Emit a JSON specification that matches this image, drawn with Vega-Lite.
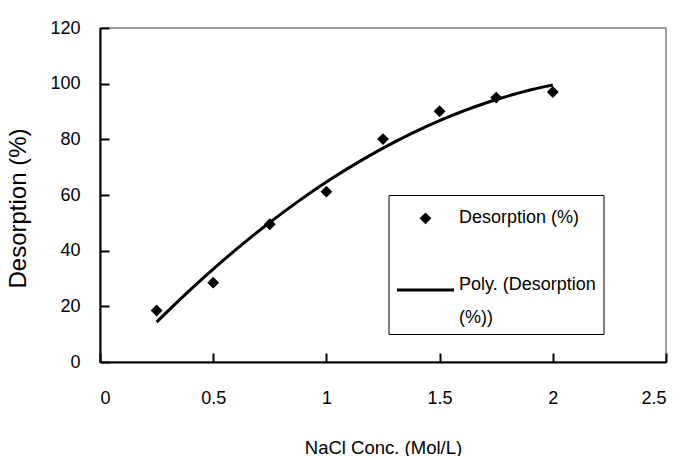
{
  "$schema": "https://vega.github.io/schema/vega-lite/v6.json",
  "width": 566,
  "height": 334,
  "autosize": {"type": "none"},
  "padding": {"left": 100, "top": 28, "right": 15, "bottom": 94},
  "background": "white",
  "config": {
    "view": {"stroke": "#808080", "strokeWidth": 1.5},
    "style": {"guide-label": {"lineHeight": 33}},
    "axis": {
      "grid": false,
      "domainColor": "black",
      "domainWidth": 2,
      "tickColor": "black",
      "tickWidth": 2,
      "tickSize": -9,
      "labelFont": "Liberation Sans",
      "labelFontSize": 18,
      "labelColor": "black",
      "titleColor": "black",
      "titleFontWeight": "normal"
    },
    "legend": {
      "labelFont": "Liberation Sans",
      "labelFontSize": 18,
      "labelColor": "black",
      "labelLimit": 400
    }
  },
  "data": {
    "values": [
      {"x": 0.25, "y": 18.5},
      {"x": 0.5, "y": 28.5},
      {"x": 0.75, "y": 49.5},
      {"x": 1.0, "y": 61.2},
      {"x": 1.25, "y": 80.1},
      {"x": 1.5, "y": 90.1},
      {"x": 1.75, "y": 95.0},
      {"x": 2.0, "y": 97.0}
    ]
  },
  "layer": [
    {
      "mark": {"type": "line", "strokeWidth": 3},
      "transform": [
        {"regression": "y", "on": "x", "method": "poly", "order": 2}
      ],
      "encoding": {
        "x": {"field": "x", "type": "quantitative"},
        "y": {"field": "y", "type": "quantitative"},
        "color": {
          "datum": "Poly. (Desorption (%))",
          "type": "nominal",
          "scale": {"range": ["black"]},
          "legend": {
            "title": " ",
            "titleFont": "Liberation Sans",
            "titleFontSize": 20,
            "titlePadding": 38,
            "orient": "none",
            "legendX": 288.5,
            "legendY": 167,
            "fillColor": "white",
            "strokeColor": "black",
            "padding": 7,
            "symbolType": "stroke",
            "symbolSize": 3249,
            "symbolStrokeWidth": 3,
            "symbolStrokeColor": "black",
            "labelOffset": 3.5,
            "labelBaseline": "alphabetic",
            "labelExpr": "['Poly. (Desorption', '(%))']"
          }
        }
      }
    },
    {
      "mark": {"type": "point", "filled": true, "size": 140, "opacity": 1, "color": "black"},
      "encoding": {
        "x": {
          "field": "x", "type": "quantitative",
          "scale": {"domain": [0, 2.5], "nice": false, "zero": false},
          "axis": {
            "values": [0, 0.5, 1, 1.5, 2, 2.5],
            "format": "~g",
            "labelPadding": 36,
            "title": "NaCl Conc. (Mol/L)",
            "titleFont": "Liberation Sans",
            "titleFontSize": 18.5,
            "titleY": 85,
            "titleBaseline": "middle"
          }
        },
        "y": {
          "field": "y", "type": "quantitative",
          "scale": {"domain": [0, 120], "nice": false},
          "axis": {
            "values": [0, 20, 40, 60, 80, 100, 120],
            "labelPadding": 29,
            "title": "Desorption (%)",
            "titleFont": "Liberation Sans",
            "titleFontSize": 24,
            "titleX": -81.5,
            "titleY": 180,
            "titleBaseline": "middle"
          }
        },
        "shape": {
          "datum": "Desorption (%)",
          "type": "nominal",
          "scale": {"range": ["diamond"]},
          "legend": {
            "title": null,
            "orient": "none",
            "legendX": 316.5,
            "legendY": 181.3,
            "padding": 0,
            "symbolSize": 140,
            "symbolFillColor": "black",
            "symbolStrokeWidth": 0,
            "labelOffset": 24.5
          }
        }
      }
    }
  ]
}
